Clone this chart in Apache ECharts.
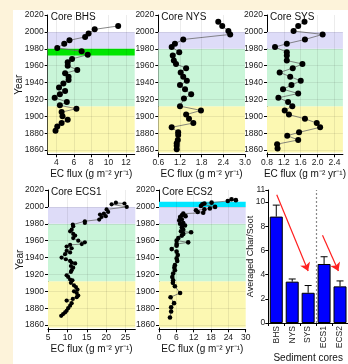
<!DOCTYPE html>
<html>
<head>
<meta charset="utf-8">
<script src="https://cdn.jsdelivr.net/npm/echarts@6/dist/echarts.min.js"></script>
<style>
html, body { margin: 0; padding: 0; background: #fdf3da; }
#paper { position: absolute; left: 13px; top: 10px; width: 335px; height: 354px; background: #fff; }
#chart { position: absolute; left: 0; top: 0; width: 348px; height: 364px; }
</style>
</head>
<body>
<div id="paper"></div>
<div id="chart"></div>
<script>
// 年代刻度
const yearTicks = [1860, 1880, 1900, 1920, 1940, 1960, 1980, 2000, 2020];

// 各岩芯的 EC 通量 (g m-2 yr-1)
const bhsYears = [2007, 2003, 1998, 1994, 1990, 1986, 1981, 1977, 1973, 1968, 1964, 1960, 1955, 1951, 1947,
    1943, 1939, 1934, 1930, 1926, 1922, 1917, 1913, 1909, 1905, 1900, 1896, 1892, 1888, 1883];
const bhsFlux = [11.1, 8.4, 7.7, 7.3, 5.5, 4.9, 4.1, 6.9, 7.6, 5.8, 5.3, 5.3, 6.4, 5.0, 5.4,
    5.4, 4.8, 4.3, 5.0, 4.4, 3.8, 5.2, 4.4, 6.3, 4.6, 4.7, 5.3, 4.6, 4.1, 3.9];

const nysYears = [2012, 2007, 2001, 1997, 1991, 1986, 1982, 1976, 1972, 1966, 1962, 1957, 1952, 1947, 1942, 1937,
    1932, 1926, 1921, 1912, 1907, 1902, 1897, 1892, 1887, 1881, 1878, 1872, 1868, 1865, 1861];
const nysFlux = [2.26, 2.37, 2.54, 2.59, 1.29, 1.06, 0.97, 1.18, 1.0, 1.03, 1.09, 1.37, 1.22, 1.29, 1.39, 1.2,
    1.34, 1.51, 1.31, 1.2, 1.78, 1.37, 1.45, 1.57, 0.97, 1.15, 1.15, 1.14, 1.11, 1.11, 1.11];

const sysYears = [2012, 2007, 2001, 1997, 1991, 1986, 1982, 1976, 1972, 1966, 1962, 1957, 1952, 1947, 1942, 1937,
    1932, 1927, 1922, 1917, 1912, 1907, 1902, 1897, 1892, 1887, 1881, 1877, 1872, 1867, 1862];
const sysFlux = [1.69, 1.54, 1.43, 2.12, 1.70, 1.27, 0.99, 1.27, 1.27, 1.27, 1.64, 1.41, 1.10, 1.35, 1.60, 1.38,
    1.18, 1.54, 1.07, 1.30, 1.40, 1.22, 1.32, 1.70, 1.98, 2.06, 1.56, 1.28, 1.54, 1.04, 1.05];

const ecs1Years = [2005, 2004, 2003, 2000, 1997, 1994, 1992, 1991, 1989, 1988, 1985, 1983, 1981, 1979, 1977,
    1973, 1971, 1968, 1966, 1963, 1960, 1958, 1956, 1955, 1953, 1951, 1948, 1946, 1944, 1940,
    1938, 1936, 1934, 1933, 1930, 1928, 1925, 1923, 1919, 1917, 1914, 1913, 1910, 1907, 1905,
    1902, 1900, 1898, 1895, 1893, 1891, 1889, 1886, 1883, 1880, 1877, 1875, 1873, 1871];
const ecs1Flux = [22.5, 24.7, 21.4, 25.3, 20.1, 20.5, 19.4, 18.4, 19.9, 18.8, 18.2, 14.5, 14.5, 11.4, 11.5,
    11.1, 10.7, 11.5, 12.0, 11.5, 12.8, 14.5, 13.7, 10.7, 9.8, 11.1, 9.8, 10.7, 9.4, 8.5,
    9.6, 10.7, 11.1, 12.0, 10.9, 11.5, 11.1, 10.9, 9.8, 10.2, 10.7, 11.3, 10.9, 11.7, 12.2,
    12.6, 11.7, 12.4, 12.8, 12.4, 11.4, 9.8, 11.1, 10.7, 10.2, 9.8, 9.4, 8.9, 8.4];

const ecs2Years = [2009, 2008, 2007, 2005, 2004, 2003, 2001, 2000, 1998, 1997, 1996, 1994, 1993, 1992, 1990,
    1989, 1988, 1985, 1984, 1981, 1980, 1978, 1976, 1973, 1971, 1970, 1968, 1966, 1963, 1960,
    1958, 1956, 1954, 1950, 1947, 1943, 1939, 1936, 1931, 1928, 1925, 1921, 1917, 1913, 1910,
    1906, 1898, 1893, 1886, 1881, 1876, 1869];
const ecs2Flux = [25.1, 26.6, 23.8, 18.2, 15.7, 15.0, 14.5, 19.4, 17.6, 15.7, 12.8, 13.4, 15.3, 8.4, 7.9,
    9.2, 7.3, 7.9, 7.0, 8.4, 7.3, 9.0, 7.9, 8.4, 7.6, 11.1, 8.4, 7.9, 6.7, 6.1,
    10.1, 6.1, 6.1, 4.4, 6.1, 6.5, 6.1, 6.3, 5.5, 5.3, 5.5, 4.9, 4.6, 4.9, 4.8,
    5.5, 7.3, 4.0, 5.2, 4.2, 4.2, 3.8];

// x 轴刻度
const bhsTicks = [4, 6, 8, 10, 12];
const nysTicks = [0.6, 1.2, 1.8, 2.4, 3.0];
const sysTicks = [0.8, 1.2, 1.6, 2.0, 2.4];
const ecs1Ticks = [5, 10, 15, 20, 25];
const ecs2Ticks = [0, 6, 12, 18, 24, 30];

// 时期分段 (年)
const periodBands = [[1857, 1912], [1912, 1980], [1980, 2000]];
const bhsEventBand = [1972, 1980];
const ecs2EventBand = [2000, 2006];

// 平均 Char/Soot
const cores = ['BHS', 'NYS', 'SYS', 'ECS1', 'ECS2'];
const charSootMean = [8.8, 3.42, 2.5, 4.88, 3.03];
const charSootErr = [0.95, 0.22, 0.6, 0.6, 0.45];
const coreGroupSplit = 3.5;
// 趋势箭头 [x1, y1, x2, y2]
const trendArrows = [[1.03, 10.6, 3.0, 4.3], [3.9, 7.25, 4.9, 4.3]];

const FONT = 'Liberation Sans, Arial, sans-serif';
const bandColors = ['#fcf8b2', '#c9f5d8', '#dedcf8'];

const panels = [
    { title: 'Core BHS', years: bhsYears, flux: bhsFlux, ticks: bhsTicks, min: 3, max: 13, dec: 0,
      left: 47.7, top: 15, width: 87, size: 6, yName: 'Year', event: bhsEventBand, eventColor: '#00e600' },
    { title: 'Core NYS', years: nysYears, flux: nysFlux, ticks: nysTicks, min: 0.6, max: 3.0, dec: 1,
      left: 158.3, top: 15, width: 86.7, size: 6, yName: '' },
    { title: 'Core SYS', years: sysYears, flux: sysFlux, ticks: sysTicks, min: 0.8, max: 2.6, dec: 1,
      left: 267, top: 15, width: 96.7, size: 6, yName: '' },
    { title: 'Core ECS1', years: ecs1Years, flux: ecs1Flux, ticks: ecs1Ticks, min: 5, max: 27.5, dec: 0,
      left: 48, top: 190, width: 87.3, size: 4.2, yName: 'Year' },
    { title: 'Core ECS2', years: ecs2Years, flux: ecs2Flux, ticks: ecs2Ticks, min: 0, max: 30, dec: 0,
      left: 159, top: 190, width: 86.7, size: 4.6, yName: '', event: ecs2EventBand, eventColor: '#00e6ff' }
];

const axisBase = {
    axisLine: { show: true, onZero: false, lineStyle: { color: '#000', width: 1 } },
    nameTextStyle: { fontSize: 10, color: '#111', fontFamily: FONT }
};
const gridLineStyle = { color: 'rgba(0,0,0,0.13)', width: 0.6, type: 'solid' };

const grids = [], xAxes = [], yAxes = [], series = [], titles = [];

panels.forEach(function (p, i) {
    grids.push({ left: p.left, top: p.top, width: p.width, height: 139.3 });
    titles.push({
        text: p.title, left: p.left + 3, top: p.top - 3, padding: 0,
        textStyle: { fontSize: 10, fontWeight: 'normal', color: '#111', fontFamily: FONT }
    });
    xAxes.push(Object.assign({}, axisBase, {
        gridIndex: i, type: 'value', min: p.min, max: p.max,
        axisTick: { show: true, customValues: p.ticks, length: 3, lineStyle: { color: '#000' } },
        axisLabel: { customValues: p.ticks, fontSize: 8.5, color: '#222', fontFamily: FONT, margin: 4,
            formatter: function (v) { return Number(v).toFixed(p.dec); } },
        splitLine: { show: false },
        name: 'EC flux (g m⁻² yr⁻¹)', nameLocation: 'middle', nameGap: 15, nameMoveOverlap: false
    }));
    yAxes.push(Object.assign({}, axisBase, {
        gridIndex: i, type: 'value', min: 1855, max: 2020,
        axisTick: { show: true, customValues: yearTicks, length: 3, lineStyle: { color: '#000' } },
        axisLabel: { customValues: yearTicks, fontSize: 8.5, color: '#222', fontFamily: FONT, margin: 4,
            formatter: function (v) { return String(Math.round(v)); } },
        splitLine: { show: false },
        name: p.yName, nameLocation: 'middle', nameGap: 23, nameMoveOverlap: false
    }));

    const areas = periodBands.map(function (b, k) {
        return [{ yAxis: b[0], itemStyle: { color: bandColors[k] } }, { yAxis: b[1] }];
    });
    if (p.event) {
        areas.push([{ yAxis: p.event[0], itemStyle: { color: p.eventColor } }, { yAxis: p.event[1] }]);
    }
    // 淡色网格线 (画在色带之上)
    const gridMarks = yearTicks.slice(0, -1).map(function (y) { return { yAxis: y }; })
        .concat(p.ticks.filter(function (t) { return t > p.min && t < p.max; })
            .map(function (t) { return { xAxis: t }; }));

    series.push({
        type: 'line', xAxisIndex: i, yAxisIndex: i,
        data: p.flux.map(function (f, k) { return [f, p.years[k]]; }),
        symbol: 'circle', symbolSize: p.size, showSymbol: true,
        itemStyle: { color: '#000' },
        lineStyle: { color: '#6a6a6a', width: 0.8 },
        markArea: { silent: true, data: areas },
        markLine: { silent: true, symbol: 'none', label: { show: false }, lineStyle: gridLineStyle, data: gridMarks }
    });
});

// 柱状图
grids.push({ left: 268.3, top: 190, width: 89.5, height: 139 });
xAxes.push(Object.assign({}, axisBase, {
    gridIndex: 5, type: 'category', data: cores,
    axisTick: { show: true, length: 3, lineStyle: { color: '#000' } },
    axisLabel: { rotate: 90, fontSize: 8.5, color: '#222', fontFamily: FONT, margin: 3 },
    name: 'Sediment cores', nameLocation: 'middle', nameGap: 30, nameMoveOverlap: false
}));
xAxes.push({ gridIndex: 5, type: 'value', min: 0.5, max: 5.5, show: false });
yAxes.push(Object.assign({}, axisBase, {
    gridIndex: 5, type: 'value', min: 0, max: 11, interval: 2,
    axisTick: { show: true, length: 3, lineStyle: { color: '#000' } },
    axisLabel: { fontSize: 8.5, color: '#222', fontFamily: FONT, margin: 3 },
    splitLine: { show: false },
    name: 'Averaged Char/Soot', nameLocation: 'middle', nameGap: 13.5, nameMoveOverlap: false,
    nameTextStyle: { fontSize: 9, color: '#111', fontFamily: FONT }
}));

series.push({
    type: 'bar', xAxisIndex: 5, yAxisIndex: 5, data: charSootMean, barWidth: 13,
    itemStyle: { color: '#0000ff', borderColor: '#000', borderWidth: 1 }
});
series.push({
    type: 'custom', xAxisIndex: 6, yAxisIndex: 5,
    data: charSootMean.map(function (m, i) { return [i + 1, m, m + charSootErr[i]]; }),
    renderItem: function (params, api) {
        const lo = api.coord([api.value(0), api.value(1)]);
        const hi = api.coord([api.value(0), api.value(2)]);
        const style = { stroke: '#000', lineWidth: 1 };
        return {
            type: 'group',
            children: [
                { type: 'line', shape: { x1: lo[0], y1: lo[1], x2: hi[0], y2: hi[1] }, style: style },
                { type: 'line', shape: { x1: hi[0] - 3.5, y1: hi[1], x2: hi[0] + 3.5, y2: hi[1] }, style: style }
            ]
        };
    },
    z: 5
});
series.push({
    type: 'line', xAxisIndex: 6, yAxisIndex: 5, data: [],
    markLine: {
        silent: true, symbol: 'none', label: { show: false },
        lineStyle: { color: '#888', type: [2, 2], width: 1.2 },
        data: [{ xAxis: coreGroupSplit }]
    }
});
series.push({
    type: 'line', xAxisIndex: 6, yAxisIndex: 5, data: [],
    markLine: {
        silent: true, symbol: ['none', 'arrow'], symbolSize: 8, label: { show: false },
        lineStyle: { color: '#ff2020', type: 'solid', width: 1.2 },
        data: trendArrows.map(function (a) {
            return [{ coord: [a[0], a[1]] }, { coord: [a[2], a[3]] }];
        })
    }
});

const chart = echarts.init(document.getElementById('chart'), null, { renderer: 'canvas' });
chart.setOption({
    animation: false,
    backgroundColor: 'transparent',
    textStyle: { fontFamily: FONT },
    title: titles,
    grid: grids,
    xAxis: xAxes,
    yAxis: yAxes,
    series: series
});
</script>
</body>
</html>
